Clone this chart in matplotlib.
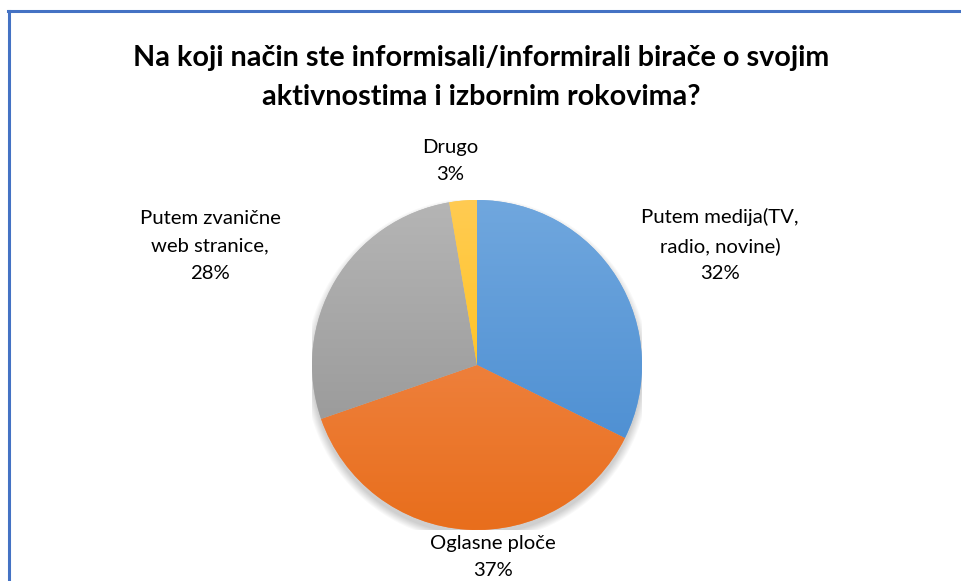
import numpy as np
import matplotlib
matplotlib.use("Agg")
import matplotlib.pyplot as plt
from matplotlib.patches import Circle
from matplotlib.lines import Line2D

# data
labels = ["Putem medija(TV,\nradio, novine)", "Oglasne ploče", "Putem zvanične\nweb stranice,", "Drugo"]
values = [32.3, 37.4, 27.6, 2.7]
pct_text = ["32%", "37%", "28%", "3%"]
top_colors = ["#70A7DE", "#F4915A", "#B5B5B5", "#FFCB52"]
bottom_colors = ["#4388CF", "#E86E1C", "#8F8F8F", "#FFBF00"]

plt.rcParams['font.family'] = ['Lato', 'DejaVu Sans']

fig = plt.figure(figsize=(9.61, 5.81), dpi=100)
W, H = 961, 581

# chart border (top + left visible)
fig.add_artist(Line2D([9 / W, 9 / W], [0, 1 - 11 / H], color="#4472C4", lw=2.2))
fig.add_artist(Line2D([8 / W, 1], [1 - 11 / H, 1 - 11 / H], color="#4472C4", lw=2.2))

fig.text(481 / W, 1 - 58 / H, "Na koji način ste informisali/informirali birače o svojim",
         ha="center", va="center", fontsize=20.7, fontweight="bold", color="#000000")
fig.text(481 / W, 1 - 97 / H, "aktivnostima i izbornim rokovima?",
         ha="center", va="center", fontsize=20.7, fontweight="bold", color="#000000")

cx, cy, r = 477, 365, 165
ax = fig.add_axes([(cx - r) / W, (H - cy - r) / H, 2 * r / W, 2 * r / H])
ax.set_xlim(-1, 1)
ax.set_ylim(-1, 1)
ax.axis("off")

# soft shadow
for k in range(8):
    ax.add_patch(Circle((0.0, -0.03), 1.0 + 0.006 * k, color="black", alpha=0.025, zorder=0, lw=0))

wedges, _ = ax.pie(values, startangle=90, counterclock=False, radius=1,
                   colors=top_colors, wedgeprops=dict(lw=0))
ax.set_xlim(-1, 1)
ax.set_ylim(-1, 1)

t = np.linspace(0, 1, 256)[:, None]
for w, c1, c2 in zip(wedges, top_colors, bottom_colors):
    a = np.array(matplotlib.colors.to_rgb(c1))
    b = np.array(matplotlib.colors.to_rgb(c2))
    grad = a[None, None, :] * (1 - t[..., None]) + b[None, None, :] * t[..., None]
    grad = np.repeat(grad, 2, axis=1)
    im = ax.imshow(grad, extent=(-1, 1, -1, 1), origin="upper", aspect="auto", zorder=2)
    im.set_clip_path(w)

# labels
label_pos = [(720, 245), (493, 557), (210, 246), (450, 161)]
for lab, p, (lx, ly) in zip(labels, pct_text, label_pos):
    fig.text(lx / W, 1 - ly / H, lab + "\n" + p, ha="center", va="center",
             fontsize=14.6, color="#000000", linespacing=1.72)

fig.savefig("out.png", dpi=100, facecolor="white")
